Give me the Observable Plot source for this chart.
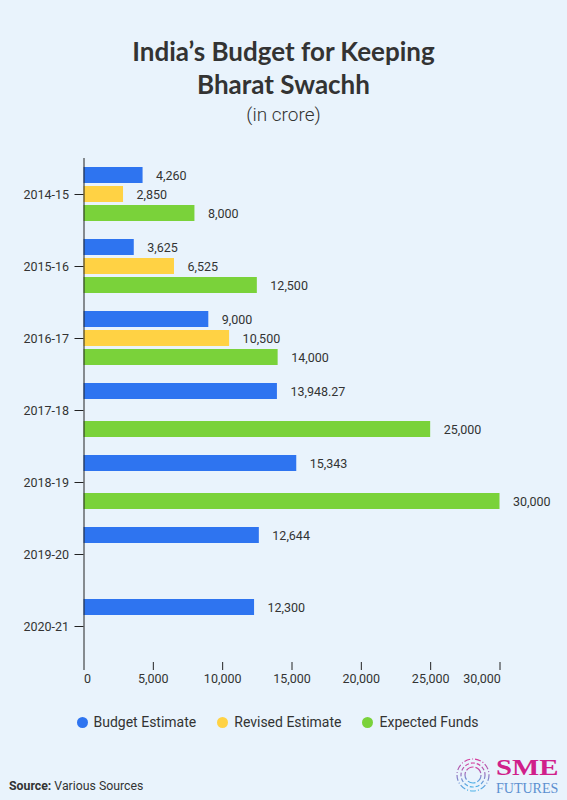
<!DOCTYPE html>
<html>
<head>
<meta charset="utf-8">
<script src="https://cdn.jsdelivr.net/npm/d3@7"></script>
<script src="https://cdn.jsdelivr.net/npm/@observablehq/plot@0.6"></script>
<style>
  html, body { margin: 0; padding: 0; }
  body { width: 567px; height: 800px; background: #E9F3FC; position: relative; overflow: hidden; font-family: Roboto, sans-serif; color: #333; }
  .title { position: absolute; left: 0; width: 567px; top: 35px; text-align: center; font-family: Lato, sans-serif; font-weight: 700; font-size: 26px; line-height: 33.4px; color: #333; }
  .subtitle { position: absolute; left: 0; width: 567px; top: 103px; text-align: center; font-family: Roboto, sans-serif; font-weight: 300; font-size: 19px; line-height: 23px; color: #333; }
  #chart { position: absolute; left: 0; top: 145px; }
  .legend { position: absolute; left: 76.5px; top: 712px; display: flex; align-items: center; font-size: 14px; line-height: 20px; color: #333; }
  .legend .item { display: flex; align-items: center; margin-right: 21px; }
  .legend .dot { width: 11px; height: 11px; border-radius: 50%; margin-right: 6px; }
  .source { position: absolute; left: 9px; top: 778px; font-size: 12.3px; line-height: 16px; color: #333; }
  .logo { position: absolute; left: 454px; top: 754px; width: 110px; height: 44px; }
  .logo .sme { position: absolute; left: 42px; top: 1px; font-family: "Liberation Serif", serif; font-weight: 700; font-size: 24px; line-height: 24px; color: #D0208A; transform: scaleX(1.2); transform-origin: left center; }
  .logo .fut { position: absolute; left: 42px; top: 27.5px; font-family: "Liberation Serif", serif; font-size: 14px; line-height: 14px; color: #5B8FD0; }
</style>
</head>
<body>
<div class="title">India’s Budget for Keeping<br>Bharat Swachh</div>
<div class="subtitle">(in crore)</div>
<div id="chart"></div>
<div class="legend" id="legend"></div>
<div class="source"><b>Source:</b> Various Sources</div>
<div class="logo">
  <svg width="40" height="42" viewBox="0 0 40 42" style="position:absolute;left:0;top:0">
    <defs>
      <linearGradient id="lg" x1="0" y1="0" x2="0" y2="1">
        <stop offset="0" stop-color="#D63A9A"/>
        <stop offset="1" stop-color="#4DB3E8"/>
      </linearGradient>
    </defs>
    <circle cx="19" cy="21" r="16" fill="none" stroke="url(#lg)" stroke-width="1.2" stroke-dasharray="6 2 1 2"/>
    <circle cx="19" cy="21" r="12" fill="none" stroke="url(#lg)" stroke-width="1.2" stroke-dasharray="4 2"/>
    <circle cx="19" cy="21" r="8" fill="none" stroke="url(#lg)" stroke-width="1.2" stroke-dasharray="8 2"/>
  </svg>
  <div class="sme">SME</div>
  <div class="fut">FUTURES</div>
</div>
<script>
const categories = ["2014-15", "2015-16", "2016-17", "2017-18", "2018-19", "2019-20", "2020-21"];
const seriesNames = ["Budget Estimate", "Revised Estimate", "Expected Funds"];
const budgetEstimate = [4260, 3625, 9000, 13948.27, 15343, 12644, 12300];
const revisedEstimate = [2850, 6525, 10500, null, null, null, null];
const expectedFunds = [8000, 12500, 14000, 25000, 30000, null, null];
const xTicks = [0, 5000, 10000, 15000, 20000, 25000, 30000];
const seriesColors = ["#2E74F0", "#FFD244", "#7AD23A"];

const seriesValues = [budgetEstimate, revisedEstimate, expectedFunds];
const rows = [];
categories.forEach((c, i) => {
  seriesNames.forEach((s, j) => {
    const v = seriesValues[j][i];
    if (v != null) rows.push({category: c, series: s, value: v});
  });
});
const fmt = d3.format(",");

const chart = Plot.plot({
  width: 567,
  height: 555,
  marginLeft: 83.5,
  marginRight: 67.5,
  marginTop: 13,
  marginBottom: 38,
  style: {background: "transparent", fontFamily: "Roboto, sans-serif", fontSize: "12.5px", color: "#333"},
  facet: {data: rows, y: "category"},
  fy: {domain: categories, padding: 0, label: null, axis: null},
  y: {domain: seriesNames, paddingInner: 0.18, paddingOuter: 0.46, axis: null, label: null},
  x: {domain: [0, 30000], axis: null, label: null},
  color: {domain: seriesNames, range: seriesColors},
  marks: [
    Plot.barX(rows, {x: "value", y: "series", fill: "series"}),
    Plot.text(rows, {x: "value", y: "series", text: d => fmt(d.value), dx: 13, textAnchor: "start", fill: "#333"}),
    Plot.ruleX([0], {stroke: "#222", strokeWidth: 1}),
    Plot.axisFy({anchor: "left", tickSize: 9, tickPadding: 6, label: null, stroke: "#222", fill: "#333"}),
    Plot.axisX({ticks: xTicks, tickSize: 8, tickFormat: () => "", label: null, line: true, stroke: "#222"}),
    Plot.axisX({ticks: xTicks.slice(1, -1), tickSize: 0, tickPadding: 12, tickFormat: fmt, label: null, fill: "#333"}),
    Plot.axisX({ticks: [0], tickSize: 0, tickPadding: 12, tickFormat: fmt, label: null, fill: "#333", dx: 3.5}),
    Plot.axisX({ticks: [30000], tickSize: 0, tickPadding: 12, tickFormat: fmt, label: null, fill: "#333", dx: -18})
  ]
});
document.getElementById("chart").appendChild(chart);

const legend = document.getElementById("legend");
seriesNames.forEach((s, i) => {
  const item = document.createElement("div");
  item.className = "item";
  const dot = document.createElement("span");
  dot.className = "dot";
  dot.style.background = seriesColors[i];
  const label = document.createElement("span");
  label.textContent = s;
  item.appendChild(dot);
  item.appendChild(label);
  legend.appendChild(item);
});
</script>
</body>
</html>
